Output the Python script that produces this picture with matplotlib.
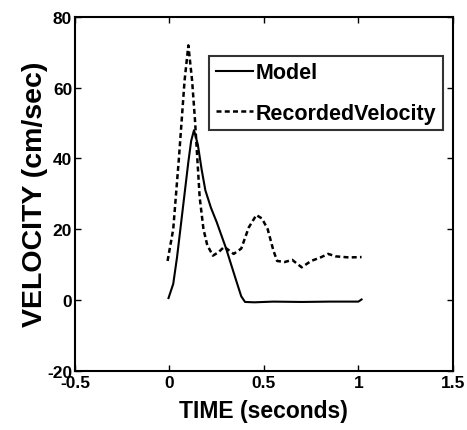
import matplotlib
matplotlib.use("Agg")
import matplotlib.pyplot as plt
import numpy as np

# Model velocity trace
model_t = [-0.005, 0.02, 0.04, 0.06, 0.08, 0.10, 0.115, 0.13, 0.15, 0.17, 0.19,
           0.22, 0.25, 0.30, 0.35, 0.38, 0.40, 0.45, 0.55, 0.70, 0.85, 1.00, 1.017]
model_v = [0.5, 4.5, 12.0, 21.0, 30.0, 39.0, 45.0, 48.0, 44.0, 37.0, 31.0,
           26.0, 22.0, 14.5, 6.0, 1.0, -0.6, -0.7, -0.5, -0.6, -0.5, -0.5, 0.1]

# Recorded velocity trace
rec_t = [-0.01, 0.02, 0.05, 0.08, 0.10, 0.12, 0.135, 0.16, 0.18, 0.20, 0.23,
         0.26, 0.29, 0.34, 0.38, 0.42, 0.46, 0.49, 0.52, 0.55, 0.57, 0.61,
         0.65, 0.70, 0.75, 0.80, 0.84, 0.88, 0.95, 1.017]
rec_v = [11.0, 20.0, 40.0, 62.0, 72.0, 62.0, 51.0, 29.0, 20.0, 15.5, 12.5,
         13.5, 15.0, 13.0, 14.5, 20.5, 24.0, 23.0, 20.0, 14.0, 11.0, 10.7,
         11.3, 9.2, 11.0, 12.0, 13.0, 12.3, 12.0, 12.1]

xticks = [-0.5, 0, 0.5, 1, 1.5]
xtick_labels = ["-0.5", "0", "0.5", "1", "1.5"]
yticks = [-20, 0, 20, 40, 60, 80]
ytick_labels = ["-20", "0", "20", "40", "60", "80"]

plt.rcParams["font.family"] = ["Liberation Sans", "DejaVu Sans"]
plt.rcParams["font.weight"] = "bold"

fig = plt.figure(figsize=(4.67, 4.31), dpi=100)
ax = fig.add_axes([0.1606, 0.138, 0.809, 0.820])

ax.plot(model_t, model_v, color="black", lw=1.5, label="Model")
ax.plot(rec_t, rec_v, color="black", lw=1.8, linestyle=(0, (2.0, 1.3)),
        label="RecordedVelocity")

ax.set_xlim(-0.5, 1.5)
ax.set_ylim(-20, 80)
ax.set_xticks(xticks)
ax.set_xticklabels(xtick_labels, fontsize=12.5, fontweight="bold")
ax.set_yticks(yticks)
ax.set_yticklabels(ytick_labels, fontsize=12.5, fontweight="bold")
ax.tick_params(direction="in", top=True, right=True, length=4, width=1)
ax.tick_params(axis="x", pad=3.5)
ax.tick_params(axis="y", pad=2)
for s in ax.spines.values():
    s.set_linewidth(1.5)

ax.set_xlabel("TIME (seconds)", fontsize=16.5, fontweight="bold", labelpad=6)
ax.set_ylabel("VELOCITY (cm/sec)", fontsize=20.5, fontweight="bold", labelpad=-1)

leg = ax.legend(loc="upper right", bbox_to_anchor=(0.973, 0.89), fontsize=15.5,
                frameon=True, fancybox=False, edgecolor="black",
                handlelength=1.75, handletextpad=0.1, borderpad=0.3,
                labelspacing=0.9, borderaxespad=0)
leg.get_frame().set_linewidth(1.5)
for t in leg.get_texts():
    t.set_fontweight("bold")

fig.savefig("out.png", dpi=100, facecolor="white")
